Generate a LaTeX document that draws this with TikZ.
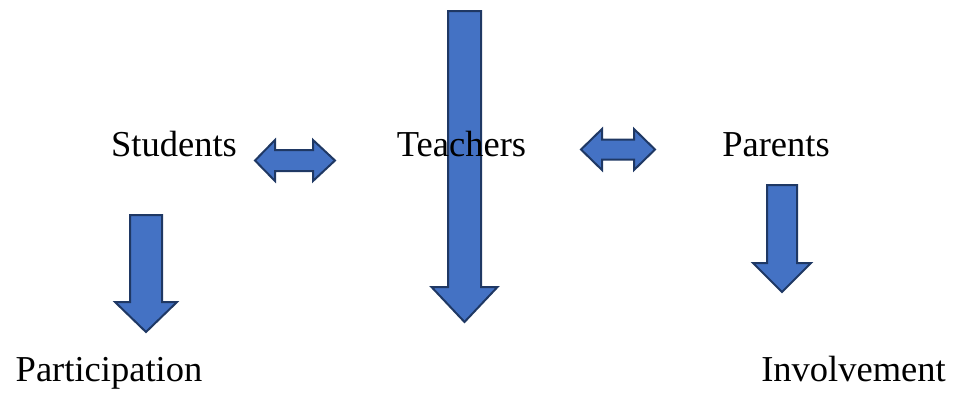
\documentclass[tikz,border=0pt]{standalone}
\usepackage{fontspec}
\setmainfont{Liberation Serif}
\usepackage{tikz}
\usetikzlibrary{positioning}
\definecolor{arrowfill}{HTML}{4472C4}
\definecolor{arrowline}{HTML}{1F3864}
\tikzstyle{blockarrow} = [draw=arrowline, fill=arrowfill, line width=2pt, line join=miter]
\tikzstyle{label} = [inner sep=0pt, anchor=base, font=\fontsize{36.5}{44}\selectfont]
% center x, shaft half, head half, top y, head back y, tip y
\newcommand{\downblock}[6]{%
  \draw[blockarrow] (#1-#2,#4) -- (#1+#2,#4) -- (#1+#2,#5) -- (#1+#3,#5)
    -- (#1,#6) -- (#1-#3,#5) -- (#1-#2,#5) -- cycle;}
% left x, left head back, right head back, right x, center y, shaft half, head half
\newcommand{\bothblock}[7]{%
  \draw[blockarrow] (#1,#5) -- (#2,#5-#7) -- (#2,#5-#6) -- (#3,#5-#6) -- (#3,#5-#7)
    -- (#4,#5) -- (#3,#5+#7) -- (#3,#5+#6) -- (#2,#5+#6) -- (#2,#5+#7) -- cycle;}

\begin{document}
\begin{tikzpicture}[x=1pt, y=-1pt]
  \useasboundingbox (0,0) rectangle (953,392);
  % arrows
  \downblock{146}{16}{31}{215}{302}{332}
  \downblock{464.5}{16.5}{33}{11}{287}{322}
  \downblock{782}{15}{29}{185}{263}{292}
  \bothblock{255}{275}{313}{335}{160.5}{10.5}{20.5}
  \bothblock{581}{602}{634}{655}{149.5}{10}{20.5}
  % texts
  \node[label] (students) at (174,156.5) {Students};
  \node[label] (teachers) at (461.5,156.5) {Teachers};
  \node[label] (parents) at (776,156.5) {Parents};
  \node[label] (participation) at (109,381) {Participation};
  \node[label] (involvement) at (853.5,381) {Involvement};
\end{tikzpicture}
\end{document}
